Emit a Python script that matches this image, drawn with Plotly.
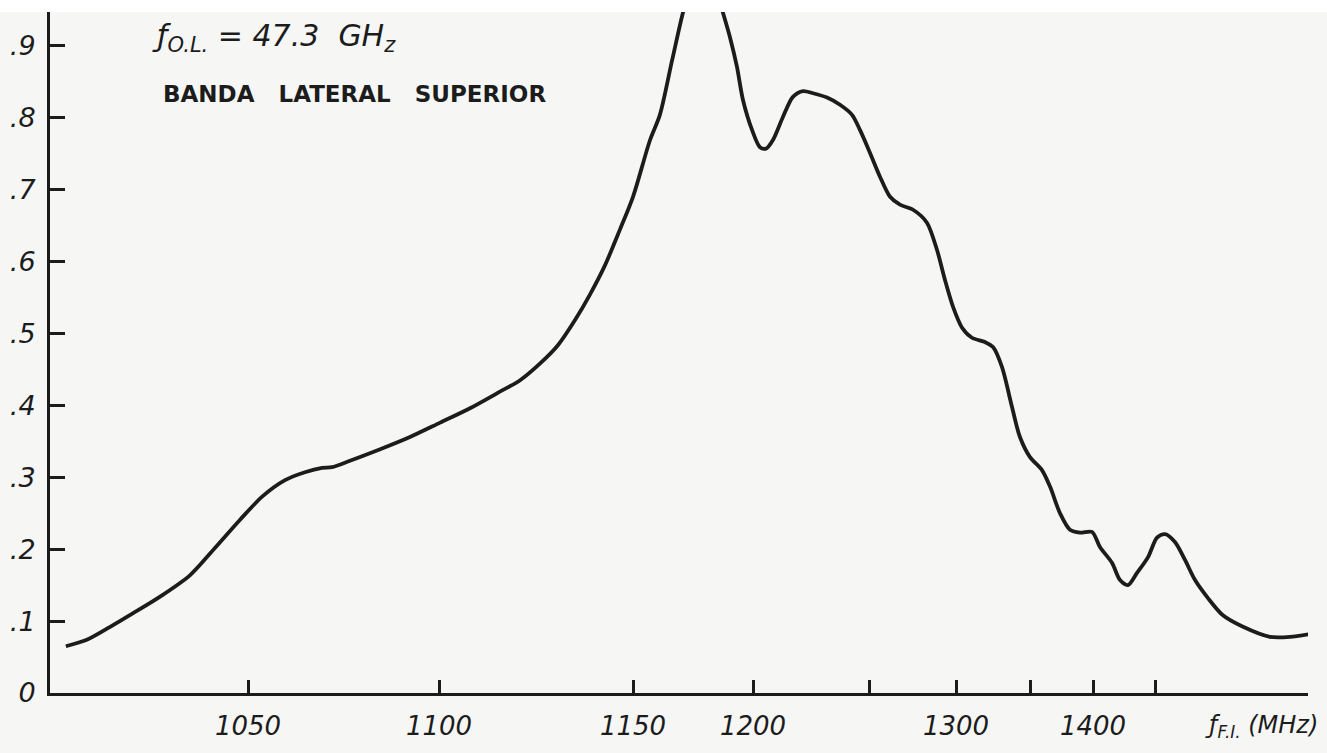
import numpy as np
import plotly.graph_objects as go

# ---------------- data ----------------
# frequency (MHz) and normalised response
FREQ_MHZ = [1004.0, 1009.3, 1015.2, 1021.0, 1027.8, 1035.4, 1041.7, 1048.0, 1053.7, 1059.7,
            1064.9, 1069.4, 1072.0, 1076.7, 1084.6, 1092.4, 1100.3, 1108.0, 1115.7, 1120.9,
            1126.0, 1130.7, 1135.1, 1138.9, 1142.8, 1146.6, 1150.0, 1157.1, 1161.2, 1166.3,
            1170.8, 1174.6, 1179.2, 1183.8, 1187.5, 1190.4, 1193.3, 1195.8, 1199.6, 1203.0,
            1205.6, 1208.6, 1212.9, 1217.2, 1221.6, 1225.9, 1231.9, 1237.5, 1242.7, 1246.1,
            1250.6, 1256.3, 1262.1, 1267.8, 1275.3, 1283.3, 1289.1, 1293.7, 1298.3, 1304.1,
            1310.8, 1319.6, 1325.0, 1331.1, 1337.8, 1343.2, 1350.0, 1359.5, 1365.9, 1373.8,
            1381.7, 1389.7, 1399.2, 1405.6, 1415.3, 1421.8, 1428.2, 1435.5, 1444.4, 1451.6,
            1458.1, 1466.1, 1474.2, 1482.3, 1492.7, 1504.8, 1521.0, 1542.7, 1558.9, 1575.0]
RESPONSE = [0.065, 0.074, 0.092, 0.111, 0.134, 0.164, 0.202, 0.241, 0.273, 0.296,
            0.307, 0.313, 0.314, 0.323, 0.339, 0.356, 0.376, 0.396, 0.419, 0.435,
            0.458, 0.484, 0.519, 0.554, 0.595, 0.644, 0.690, 0.769, 0.804, 0.880,
            0.946, 0.990, 1.005, 0.990, 0.946, 0.912, 0.871, 0.825, 0.783, 0.759,
            0.757, 0.769, 0.801, 0.829, 0.837, 0.834, 0.828, 0.818, 0.804, 0.783,
            0.751, 0.718, 0.690, 0.679, 0.672, 0.654, 0.616, 0.574, 0.537, 0.508,
            0.494, 0.488, 0.481, 0.453, 0.398, 0.356, 0.328, 0.310, 0.287, 0.250,
            0.227, 0.223, 0.224, 0.203, 0.181, 0.157, 0.150, 0.167, 0.189, 0.216,
            0.221, 0.210, 0.185, 0.157, 0.132, 0.108, 0.092, 0.078, 0.078, 0.082]

# hand-drawn frequency axis graduations (non-uniform spacing on the original drawing)
LABELED_MHZ = [1050, 1100, 1150, 1200, 1300, 1400]
LABELED_TEXT = ["1050", "1100", "1150", "1200", "1300", "1400"]
UNLABELED_MHZ = [1250, 1350, 1450]
SCALE_MHZ = [1000, 1050, 1100, 1150, 1200, 1250, 1300, 1350, 1400, 1450]   # 1000 = axis origin
SCALE_GRAD = [0, 198, 389, 583, 703, 819, 906, 980, 1043, 1105]   # drawn graduation offsets
AXIS_END_GRAD = 1258

Y_TICKS = [0, 0.1, 0.2, 0.3, 0.4, 0.5, 0.6, 0.7, 0.8, 0.9]
Y_TEXT = ["0", ".1", ".2", ".3", ".4", ".5", ".6", ".7", ".8", ".9"]
Y_TOP = 0.947


def to_axis(f):
    f = np.asarray(f, dtype=float)
    g = np.interp(f, SCALE_MHZ, SCALE_GRAD)
    slope_hi = (SCALE_GRAD[-1] - SCALE_GRAD[-2]) / (SCALE_MHZ[-1] - SCALE_MHZ[-2])
    slope_lo = (SCALE_GRAD[1] - SCALE_GRAD[0]) / (SCALE_MHZ[1] - SCALE_MHZ[0])
    g = np.where(f > SCALE_MHZ[-1], SCALE_GRAD[-1] + (f - SCALE_MHZ[-1]) * slope_hi, g)
    g = np.where(f < SCALE_MHZ[0], SCALE_GRAD[0] + (f - SCALE_MHZ[0]) * slope_lo, g)
    return g


BG = "#f6f6f5"
INK = "#1c1c1c"
FONT = "DejaVu Sans"

fig = go.Figure()
fig.add_trace(go.Scatter(
    x=to_axis(FREQ_MHZ), y=RESPONSE, mode="lines",
    line=dict(color=INK, width=3.8, shape="spline", smoothing=0.8),
    hoverinfo="skip", showlegend=False))

fig.update_layout(
    width=1327, height=753,
    margin=dict(l=50, r=19, t=12, b=60),
    paper_bgcolor=BG, plot_bgcolor=BG,
    xaxis=dict(
        range=[0, AXIS_END_GRAD], showgrid=False, zeroline=False, automargin=False,
        showline=True, linewidth=3, linecolor=INK,
        tickmode="array", tickvals=to_axis(LABELED_MHZ).tolist(), ticktext=LABELED_TEXT,
        ticks="inside", ticklen=13, tickwidth=2.5, tickcolor=INK,
        ticklabelstandoff=8,
        tickfont=dict(family=FONT, size=26, color=INK, style="italic"),
        minor=dict(tickmode="array", tickvals=to_axis(UNLABELED_MHZ).tolist(),
                   ticks="inside", ticklen=13, tickwidth=2.5, tickcolor=INK, showgrid=False),
    ),
    yaxis=dict(
        range=[0, Y_TOP], showgrid=False, zeroline=False, automargin=False,
        showline=True, linewidth=3, linecolor=INK,
        tickmode="array", tickvals=Y_TICKS, ticktext=Y_TEXT,
        ticks="inside", ticklen=15, tickwidth=2.5, tickcolor=INK,
        ticklabelstandoff=6,
        tickfont=dict(family=FONT, size=27, color=INK, style="italic"),
    ),
)

# white scan margin at the very top
fig.add_shape(type="rect", xref="paper", yref="paper", x0=-0.1, x1=1.1,
              y0=1.0, y1=1.1, fillcolor="white", line=dict(width=0), layer="above")

fig.add_annotation(
    xref="paper", yref="paper", x=(150 - 50) / 1258, y=(693 - 38) / 681,
    xanchor="left", yanchor="middle", showarrow=False,
    text="ƒ<sub>O.L.</sub> = 47.3 &nbsp;GH<sub>z</sub>",
    font=dict(family=FONT, size=30, color=INK, style="italic"))
fig.add_annotation(
    xref="paper", yref="paper", x=(161 - 50) / 1258, y=(693 - 94) / 681,
    xanchor="left", yanchor="middle", showarrow=False,
    text="BANDA&nbsp;&nbsp; LATERAL&nbsp;&nbsp; SUPERIOR",
    font=dict(family=FONT, size=23, color=INK, weight="bold"))
fig.add_annotation(
    xref="paper", yref="paper", x=(1203 - 50) / 1258, y=(693 - 726) / 681,
    xanchor="left", yanchor="middle", showarrow=False,
    text="ƒ<sub>F.I.</sub> (MHz)",
    font=dict(family=FONT, size=24, color=INK, style="italic"))

# remove the default page margin so the figure sits at the window origin
fig.write_html("out.html",
               config={"displayModeBar": False},
               post_script="document.body.style.margin='0px';"
                           "document.body.style.background='%s';" % BG)
